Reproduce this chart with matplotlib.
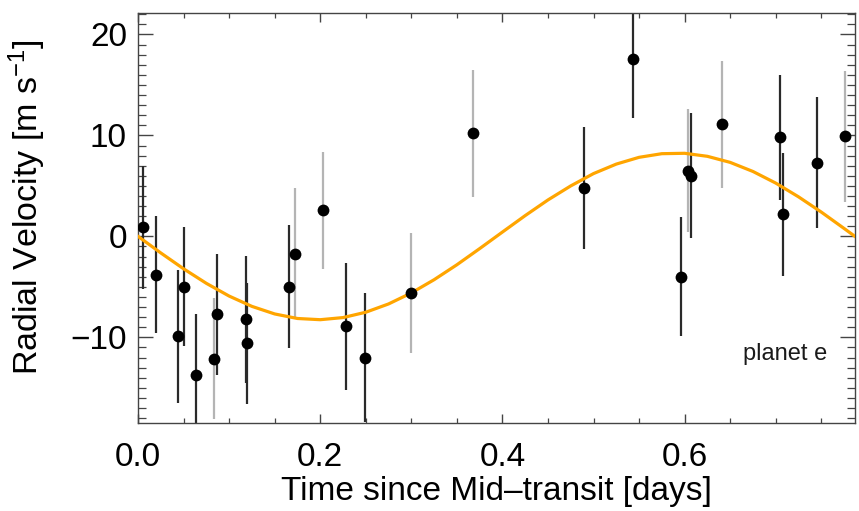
import matplotlib
matplotlib.use("Agg")
import matplotlib.pyplot as plt
from matplotlib.ticker import MultipleLocator

plt.rcParams['font.family'] = ['Liberation Sans', 'DejaVu Sans']
plt.rcParams['mathtext.default'] = 'regular'

# RV points, first instrument (dark error bars)
t_dark = [0.005, 0.020, 0.044, 0.051, 0.064, 0.087, 0.118, 0.120, 0.166,
          0.228, 0.249, 0.490, 0.543, 0.596, 0.607, 0.705, 0.708, 0.745]
rv_dark = [0.9, -3.8, -9.9, -5.0, -13.7, -7.7, -8.2, -10.6, -5.0,
           -8.9, -12.0, 4.8, 17.6, -4.0, 6.0, 9.8, 2.2, 7.3]
err_dark = [6.1, 5.8, 6.6, 5.9, 6.0, 6.0, 6.3, 6.0, 6.1,
            6.3, 6.4, 6.0, 5.9, 5.9, 6.2, 6.2, 6.1, 6.5]

# RV points, second instrument (light error bars)
t_light = [0.083, 0.172, 0.203, 0.300, 0.368, 0.604, 0.641, 0.776]
rv_light = [-12.1, -1.7, 2.6, -5.6, 10.2, 6.5, 11.1, 9.9]
err_light = [6.0, 6.5, 5.8, 5.9, 6.3, 6.1, 6.3, 6.5]

# orbit model
t_model = [0.0, 0.025, 0.05, 0.075, 0.1, 0.125, 0.15, 0.175, 0.2, 0.225,
           0.25, 0.275, 0.3, 0.325, 0.35, 0.375, 0.4, 0.425, 0.45, 0.475,
           0.5, 0.525, 0.55, 0.575, 0.6, 0.625, 0.65, 0.675, 0.7, 0.725,
           0.75, 0.775, 0.787]
rv_model = [0.0, -1.64, -3.21, -4.65, -5.91, -6.93, -7.68, -8.13, -8.25, -8.04,
            -7.51, -6.69, -5.60, -4.29, -2.81, -1.21, 0.43, 2.06, 3.61, 5.00,
            6.22, 7.16, 7.83, 8.19, 8.23, 7.93, 7.33, 6.43, 5.28, 3.92,
            2.41, 0.79, 0.0]

fig = plt.figure(figsize=(8.59, 5.11), dpi=100)
ax = fig.add_axes([0.1607, 0.1728, 0.8346, 0.8023])

ax.errorbar(t_light, rv_light, yerr=err_light, fmt='none', ecolor='#b4b4b4',
            elinewidth=1.6, capsize=0, zorder=2)
ax.errorbar(t_dark, rv_dark, yerr=err_dark, fmt='none', ecolor='#2a2a2a',
            elinewidth=1.6, capsize=0, zorder=2)
ax.plot(t_model, rv_model, color='#ffa500', lw=2.3, zorder=3,
        solid_joinstyle='round')
ax.plot(t_dark + t_light, rv_dark + rv_light, 'o', color='black', ms=8.5,
        mec='none', zorder=4)

ax.set_xlim(0, 0.787)
ax.set_ylim(-18.45, 22.15)
ax.xaxis.set_major_locator(MultipleLocator(0.2))
ax.xaxis.set_minor_locator(MultipleLocator(0.05))
ax.yaxis.set_major_locator(MultipleLocator(10))
ax.yaxis.set_minor_locator(MultipleLocator(1))
ax.xaxis.set_major_formatter(plt.FormatStrFormatter('%.1f'))

for s in ax.spines.values():
    s.set_color('#444444')
    s.set_linewidth(1.0)
ax.tick_params(which='both', direction='in', top=True, right=True,
               colors='#444444', labelcolor='black', labelsize=24)
ax.tick_params(axis='y', which='major', length=11, width=1.0, pad=8)
ax.tick_params(axis='y', which='minor', length=5.5, width=0.9)
ax.tick_params(axis='x', which='major', length=6.5, width=1.0, pad=14)
ax.tick_params(axis='x', which='minor', length=3.8, width=0.9)

ax.set_xlabel('Time since Mid\u2013transit [days]', fontsize=24, labelpad=2)
ax.set_ylabel('Radial Velocity [m s$^{-1}$]', fontsize=24.5)
ax.yaxis.set_label_coords(-0.125, 0.525)

ax.text(0.757, -11.6, 'planet e', fontsize=17, color='#1a1a1a',
        ha='right', va='center')

fig.savefig('out.png', dpi=100)
